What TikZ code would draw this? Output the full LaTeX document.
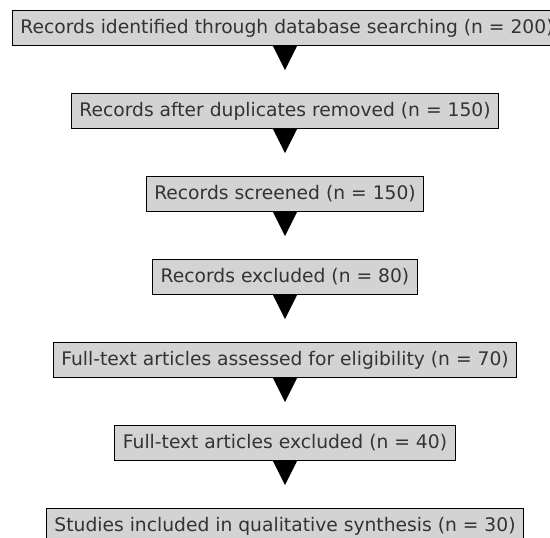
\documentclass[tikz,border=0pt]{standalone}
\usepackage{fontspec}
\setmainfont{DejaVu Sans}
\usetikzlibrary{calc}
\begin{document}
\begin{tikzpicture}[x=1pt,y=-1pt,
  box/.style={draw=black,line width=1.1pt,fill=boxgray,text=txtgray,
    minimum height=35pt,inner xsep=8pt,inner ysep=0pt,
    font=\fontsize{18.7}{22}\selectfont,anchor=north},
  tri/.style={fill=black}]
\definecolor{boxgray}{HTML}{D3D3D3}
\definecolor{txtgray}{HTML}{333333}
\clip (0,0) rectangle (550,538);
\fill[white] (0,0) rectangle (550,538);
\node[box] (n1) at (287,10) {Records identified through database searching (n = 200)};
\node[box] (n2) at (285,93) {Records after duplicates removed (n = 150)};
\node[box] (n3) at (285,176) {Records screened (n = 150)};
\node[box] (n4) at (285,259) {Records excluded (n = 80)};
\node[box] (n5) at (285,342) {Full-text articles assessed for eligibility (n = 70)};
\node[box] (n6) at (285,425) {Full-text articles excluded (n = 40)};
\node[box] (n7) at (285,508) {Studies included in qualitative synthesis (n = 30)};
\foreach \a in {n2,n3,n4,n5,n6}{
  \fill[tri] ($(\a.south)+(-12,0)$) -- ($(\a.south)+(12,0)$) -- ($(\a.south)+(0,24)$) -- cycle;
}
\fill[tri] ($(n1.south)+(-14,0)$) -- ($(n1.south)+(10,0)$) -- ($(n1.south)+(-2,24)$) -- cycle;
\end{tikzpicture}
\end{document}
